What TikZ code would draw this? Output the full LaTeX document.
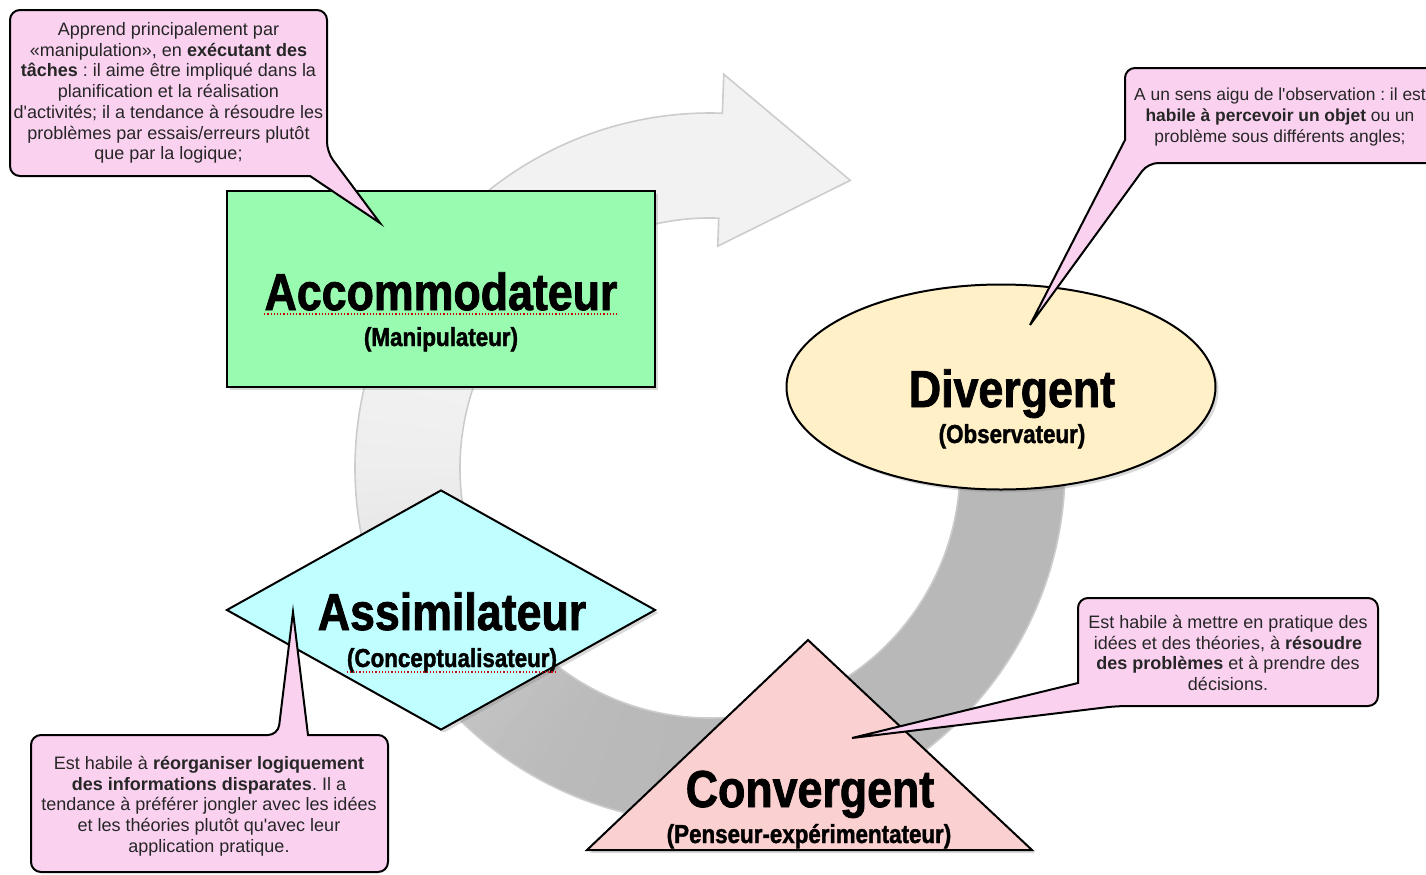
\documentclass[tikz,border=0pt]{standalone}
\usepackage{fontspec}
\setmainfont{Liberation Sans}[Ligatures=TeXOff]
\newfontfamily\titlefont[FakeStretch=0.86,FakeBold=1.5]{Liberation Sans}
\usetikzlibrary{shapes.geometric,shadows,calc}
\frenchspacing

\definecolor{accgreen}{RGB}{152,251,176}
\definecolor{divyellow}{RGB}{255,240,200}
\definecolor{assimcyan}{RGB}{192,255,255}
\definecolor{convpink}{RGB}{250,208,208}
\definecolor{notepink}{RGB}{250,210,240}

\begin{document}
\begin{tikzpicture}[x=0.5pt, y=0.5pt,
    kolb/.style={draw, line width=1pt, inner sep=0pt,
        drop shadow={opacity=0.3, shadow xshift=1.5pt, shadow yshift=-1.5pt}},
    bigname/.style={font=\titlefont\bfseries\fontsize{26}{28}\selectfont, inner sep=0pt, anchor=base},
    smallname/.style={font=\titlefont\bfseries\fontsize{13}{15}\selectfont, inner sep=0pt, anchor=base},
    notetext/.style={font=\fontsize{9}{10.35}\selectfont, align=center, inner sep=0pt, text=black!85},
    bubble/.style={draw, line width=1pt, fill=notepink, rounded corners=5pt},
    spell/.style={red!80!black, densely dotted, line width=0.6pt}
  ]

        \useasboundingbox (0,0) rectangle (1426,-874);
        \clip (0,0) rectangle (1426,-874);

        % the big circular arrow
        \coordinate (ring) at (710,-468);
        \foreach \a in {20,18,...,-270}{
            \pgfmathsetmacro\g{72+23/(1+exp(min(8,(\a+150)/12)))}
            \fill[white!\g!black] ($(ring)+(\a:355)$) arc[start angle=\a, end angle=\a-2.6, radius=355]
                -- ($(ring)+(\a-2.6:250)$) arc[start angle=\a-2.6, end angle=\a, radius=250] -- cycle;
        }
        \fill[white!95!black] ($(ring)+(88:394)$) -- ($(ring)+(64:320)$) -- ($(ring)+(88:222)$) -- cycle;
        \draw[black!20, line width=0.8pt] ($(ring)+(20:355)$) arc[start angle=20, end angle=-272, radius=355]
            -- ($(ring)+(88:394)$) -- ($(ring)+(64:320)$) -- ($(ring)+(88:222)$) -- ($(ring)+(88:250)$)
            arc[start angle=-272, end angle=20, radius=250] -- cycle;

        % the four styles
        \node[kolb, fill=accgreen, minimum width=214pt, minimum height=98pt] (accom) at (441,-289) {};
        \node[kolb, ellipse, fill=divyellow, minimum width=214.5pt, minimum height=102.5pt] (diverg) at (1001,-387) {};
        \node[kolb, diamond, fill=assimcyan, minimum width=214.5pt, minimum height=120pt] (assim) at (441,-610) {};
        \path[kolb, fill=convpink] (587,-850) -- (808,-640) -- (1032,-850) -- cycle;

        \node[bigname] (accomT) at (441,-310) {Accommodateur};
        \node[smallname] (accomS) at (441,-346) {(Manipulateur)};
        \node[bigname] (divergT) at (1012,-407) {Divergent};
        \node[smallname] (divergS) at (1012,-443) {(Observateur)};
        \node[bigname] (assimT) at (452,-630) {Assimilateur};
        \node[smallname] (assimS) at (452,-667) {(Conceptualisateur)};
        \node[bigname] (convergT) at (810,-807) {Convergent};
        \node[smallname] (convergS) at (809,-843) {(Penseur-expérimentateur)};

        \draw[spell] ([yshift=-2pt]accomT.base west) -- ([yshift=-2pt]accomT.base east);
        \draw[spell] ([yshift=-2.5pt]assimS.base west) -- ([yshift=-2.5pt]assimS.base east);

        % notes
        \draw[bubble] (170,-10) -- (327,-10) -- (327,-152) [sharp corners] -- (380,-223) -- (310,-176)
            [rounded corners=5pt] -- (10,-176) -- (10,-10) -- cycle;
        \node[notetext] (accnote) at (168.5,-93) {Apprend principalement par\\
            «manipulation», en \textbf{exécutant des}\\
            \textbf{tâches} : il aime être impliqué dans la\\
            planification et la réalisation\\
            d'activités; il a tendance à résoudre les\\
            problèmes par essais/erreurs plutôt\\
            que par la logique;};

        \draw[bubble] (1284,-68) -- (1443,-68) -- (1443,-163) -- (1148,-163) [sharp corners] -- (1030,-325)
            -- (1125,-140) [rounded corners=5pt] -- (1125,-68) -- cycle;
        \node[notetext, font=\fontsize{8.7}{10.35}\selectfont] (divnote) at (1280,-117) {A un sens aigu de l'observation : il est\\
            \textbf{habile à percevoir un objet} ou un\\
            problème sous différents angles;};

        \draw[bubble] (31,-800) -- (31,-735) -- (278,-735) [sharp corners] -- (293,-612) -- (308,-735)
            [rounded corners=5pt] -- (388,-735) -- (388,-872) -- (31,-872) -- cycle;
        \node[notetext] (assnote) at (209,-806) {Est habile à \textbf{réorganiser logiquement}\\
            \textbf{des informations disparates}. Il a\\
            tendance à préférer jongler avec les idées\\
            et les théories plutôt qu'avec leur\\
            application pratique.};

        \draw[bubble] (1228,-598) -- (1378,-598) -- (1378,-706) -- (1117,-706) [sharp corners] -- (852,-738)
            -- (1078,-683) [rounded corners=5pt] -- (1078,-598) -- cycle;
        \node[notetext] (connote) at (1228,-653) {Est habile à mettre en pratique des\\
            idées et des théories, à \textbf{résoudre}\\
            \textbf{des problèmes} et à prendre des\\
            décisions.};

    \end{tikzpicture}
\end{document}
